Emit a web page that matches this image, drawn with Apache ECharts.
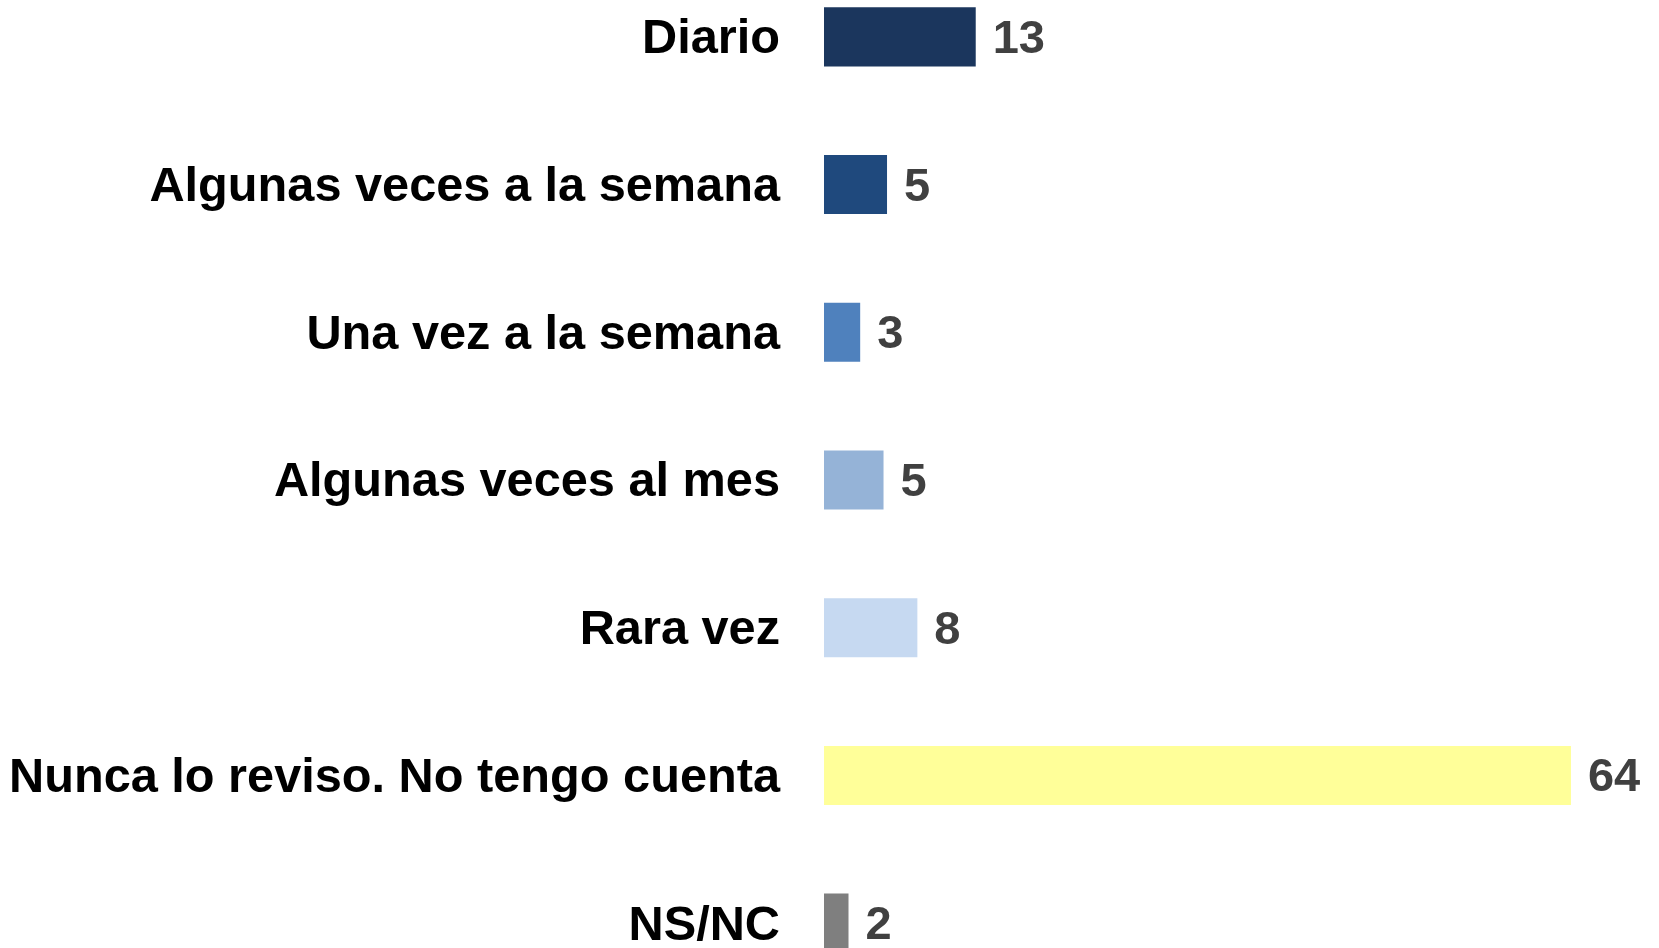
<!DOCTYPE html>
<html>
<head>
<meta charset="utf-8">
<script src="https://cdn.jsdelivr.net/npm/echarts@6/dist/echarts.min.js"></script>
<style>
  html, body { margin: 0; padding: 0; background: #fff; }
  #chart { width: 1659px; height: 948px; }
</style>
</head>
<body>
<div id="chart"></div>
<script>
const categorias = [
  'Diario',
  'Algunas veces a la semana',
  'Una vez a la semana',
  'Algunas veces al mes',
  'Rara vez',
  'Nunca lo reviso. No tengo cuenta',
  'NS/NC'
]
// porcentajes (la etiqueta los muestra redondeados)
const valores = [13.0, 5.4, 3.1, 5.1, 8.0, 64.0, 2.1]
const colores = ['#1b365d', '#1f497d', '#4f81bd', '#95b3d7', '#c6d9f1', '#ffff99', '#7f7f7f']

const chart = echarts.init(document.getElementById('chart'))
window.addEventListener('resize', chart.resize)

const option = {
  animation: false,
  grid: {
    left: 824,
    width: 817,
    top: -37,
    height: 1034,
    outerBoundsMode: 'none'
  },
  xAxis: {
    type: 'value',
    min: 0,
    max: 70,
    show: false
  },
  yAxis: {
    type: 'category',
    inverse: true,
    data: categorias,
    axisLine: { show: false },
    axisTick: { show: false },
    axisLabel: {
      margin: 44,
      formatter: v => '{t|' + v + '}',
      rich: {
        t: {
          color: '#000',
          fontFamily: 'Liberation Sans',
          fontWeight: 'bold',
          fontSize: 48.7,
          padding: [6, 0, 0, 0]
        }
      }
    }
  },
  series: [
    {
      type: 'bar',
      barWidth: '40%',
      data: valores.map((v, i) => ({ value: v, itemStyle: { color: colores[i] } })),
      label: {
        show: true,
        position: 'right',
        distance: 17,
        offset: [0, 3],
        color: '#404040',
        fontFamily: 'Liberation Sans',
        fontWeight: 'bold',
        fontSize: 47,
        formatter: p => Math.round(p.value)
      }
    }
  ]
}
chart.setOption(option)
</script>
</body>
</html>
